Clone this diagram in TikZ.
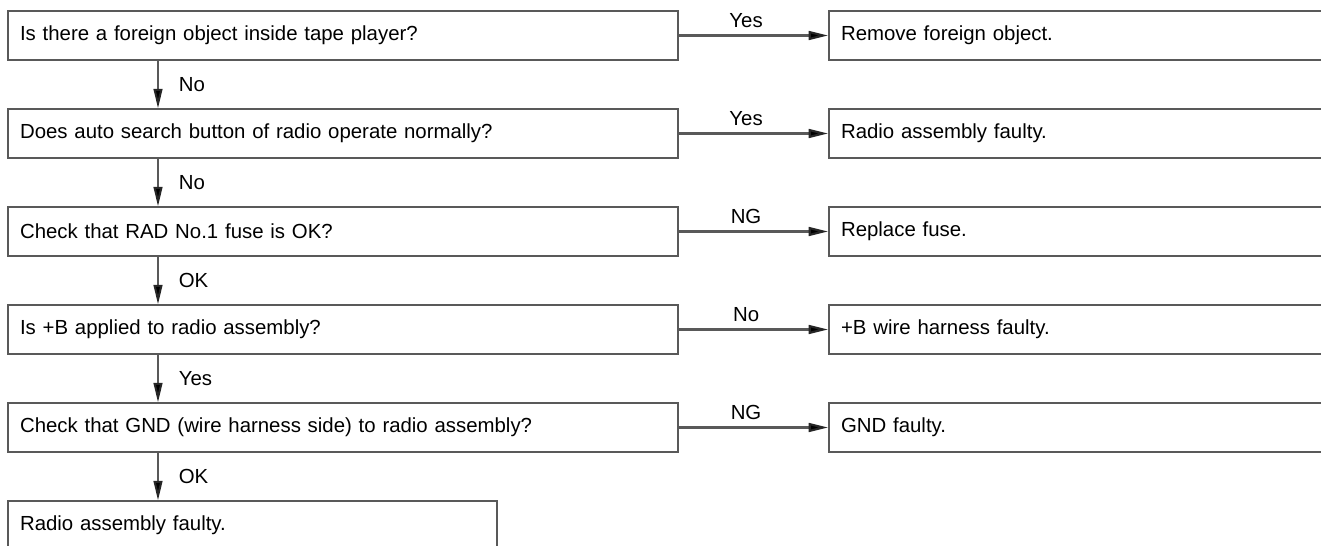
\documentclass[tikz,border=0pt]{standalone}
\usepackage{fontspec}
\setmainfont{Liberation Sans}
\usetikzlibrary{positioning,arrows.meta}

\begin{document}
\begin{tikzpicture}[
  box/.style={draw=black!65, line width=1.2pt, align=left, anchor=west, font=\fontsize{11.6}{13}\selectfont, minimum height=9.7mm, inner xsep=0.24cm},
  ask/.style={box, text width=12.92cm},
  res/.style={box, text width=10.3cm},
  lbl/.style={font=\fontsize{11.6}{13}\selectfont, inner sep=1pt},
  arr/.style={-{Triangle[length=11pt,width=5pt,fill=black,color=black!85]}, line width=1.2pt, draw=black!65}
]
\useasboundingbox (0,0) rectangle (26.42,-10.92);
\clip (0,0) rectangle (26.42,-10.92);
\foreach \n/\y/\qtxt/\ans/\rtxt in {
  1/-0.71/Is there a foreign object inside tape player?/Yes/Remove foreign object.,
  2/-2.67/Does auto search button of radio operate normally?/Yes/Radio assembly faulty.,
  3/-4.63/Check that RAD No.1 fuse is OK?/NG/Replace fuse.,
  4/-6.59/Is +B applied to radio assembly?/No/+B wire harness faulty.,
  5/-8.55/Check that GND (wire harness side) to radio assembly?/NG/GND faulty.} {
  \node[ask] (q\n) at (0.14,\y) {\qtxt};
  \node[res] (r\n) at (16.56,\y) {\rtxt};
  \draw[arr] (q\n.east) -- (r\n.west) node[lbl, midway, above=3pt, xshift=-0.15cm] {\ans};
}
\node[box, text width=9.3cm] (q6) at (0.14,-10.51) {Radio assembly faulty.};
\foreach \a/\b/\lab in {1/2/No, 2/3/No, 3/4/OK, 4/5/Yes, 5/6/OK} {
  \draw[arr] ([xshift=3.02cm]q\a.south west) -- ([xshift=3.02cm]q\b.north west)
    node[lbl, midway, right=0.36cm] {\lab};
}
\end{tikzpicture}
\end{document}
